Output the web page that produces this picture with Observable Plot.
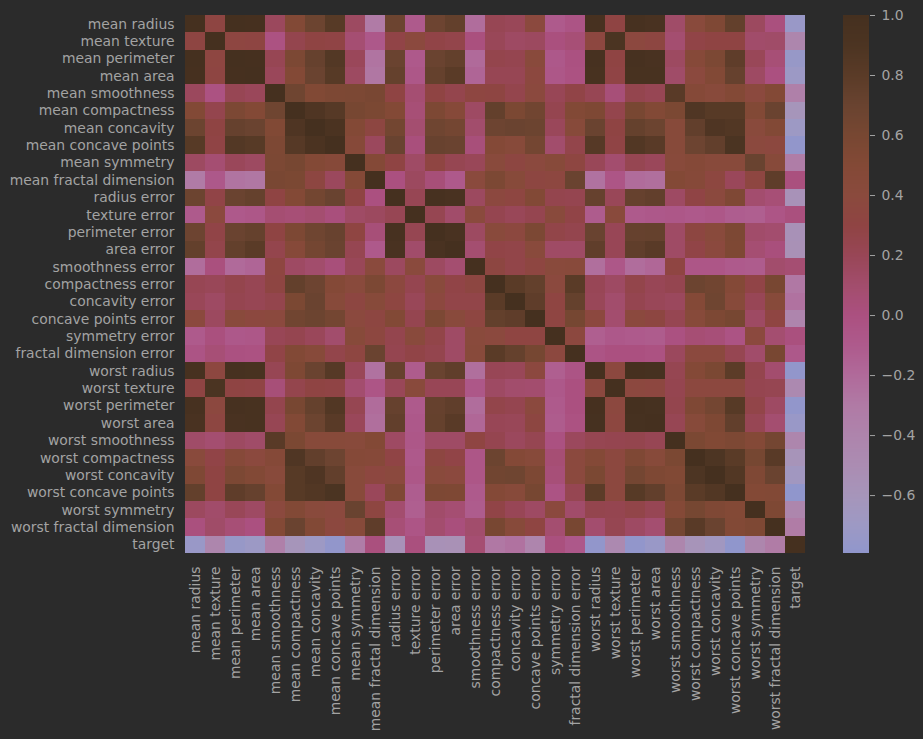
<!DOCTYPE html>
<html>
<head>
<meta charset="utf-8">
<script src="https://cdn.jsdelivr.net/npm/d3@7"></script>
<script src="https://cdn.jsdelivr.net/npm/@observablehq/plot@0.6"></script>
<style>
  html, body { margin: 0; padding: 0; background: #2b2b2b; }
  #wrap { position: relative; width: 923px; height: 739px; background: #2b2b2b; overflow: hidden; }
  #main, #bar { position: absolute; top: 0; }
  #main { left: 0; }
  #bar { left: 830px; }
  svg { background: transparent !important; }
</style>
</head>
<body>
<div id="wrap"><div id="main"></div><div id="bar"></div></div>
<script>
// Variable names (rows and columns, same order)
const features = [
  "mean radius", "mean texture", "mean perimeter", "mean area", "mean smoothness",
  "mean compactness", "mean concavity", "mean concave points", "mean symmetry", "mean fractal dimension",
  "radius error", "texture error", "perimeter error", "area error", "smoothness error",
  "compactness error", "concavity error", "concave points error", "symmetry error", "fractal dimension error",
  "worst radius", "worst texture", "worst perimeter", "worst area", "worst smoothness",
  "worst compactness", "worst concavity", "worst concave points", "worst symmetry", "worst fractal dimension",
  "target"
];

// Lower triangle of the correlation matrix: row i holds correlations with columns 0..i-1 (diagonal = 1)
const lowerTriangle = [
  [],
  [0.32],
  [1.00, 0.33],
  [0.99, 0.32, 0.99],
  [0.17, -0.02, 0.21, 0.18],
  [0.51, 0.24, 0.56, 0.50, 0.66],
  [0.68, 0.30, 0.72, 0.69, 0.52, 0.88],
  [0.82, 0.29, 0.85, 0.82, 0.55, 0.83, 0.92],
  [0.15, 0.07, 0.18, 0.15, 0.56, 0.60, 0.50, 0.46],
  [-0.31, -0.08, -0.26, -0.28, 0.58, 0.57, 0.34, 0.17, 0.48],
  [0.68, 0.28, 0.69, 0.73, 0.30, 0.50, 0.63, 0.70, 0.30, 0.00],
  [-0.10, 0.39, -0.09, -0.07, 0.07, 0.05, 0.08, 0.02, 0.13, 0.16, 0.21],
  [0.67, 0.28, 0.69, 0.73, 0.30, 0.55, 0.66, 0.71, 0.31, 0.04, 0.97, 0.22],
  [0.74, 0.26, 0.74, 0.80, 0.25, 0.46, 0.62, 0.69, 0.22, -0.09, 0.95, 0.11, 0.94],
  [-0.22, 0.01, -0.20, -0.17, 0.33, 0.14, 0.10, 0.03, 0.19, 0.40, 0.16, 0.40, 0.15, 0.08],
  [0.21, 0.19, 0.25, 0.21, 0.32, 0.74, 0.67, 0.49, 0.42, 0.56, 0.36, 0.23, 0.42, 0.28, 0.34],
  [0.19, 0.14, 0.23, 0.21, 0.25, 0.57, 0.69, 0.44, 0.34, 0.45, 0.33, 0.19, 0.36, 0.27, 0.27, 0.80],
  [0.38, 0.16, 0.41, 0.37, 0.38, 0.64, 0.68, 0.62, 0.39, 0.34, 0.51, 0.23, 0.56, 0.42, 0.33, 0.74, 0.77],
  [-0.10, 0.01, -0.08, -0.07, 0.20, 0.23, 0.18, 0.10, 0.45, 0.35, 0.24, 0.41, 0.27, 0.13, 0.41, 0.39, 0.31, 0.31],
  [-0.04, 0.05, -0.01, -0.02, 0.28, 0.51, 0.45, 0.26, 0.33, 0.69, 0.23, 0.28, 0.24, 0.13, 0.43, 0.80, 0.73, 0.61, 0.37],
  [0.97, 0.35, 0.97, 0.96, 0.21, 0.54, 0.69, 0.83, 0.19, -0.25, 0.72, -0.11, 0.70, 0.76, -0.23, 0.20, 0.19, 0.36, -0.13, -0.04],
  [0.30, 0.91, 0.30, 0.29, 0.04, 0.25, 0.30, 0.29, 0.09, -0.05, 0.19, 0.41, 0.20, 0.20, -0.07, 0.14, 0.10, 0.09, -0.08, -0.00, 0.36],
  [0.97, 0.36, 0.97, 0.96, 0.24, 0.59, 0.73, 0.86, 0.22, -0.21, 0.72, -0.10, 0.72, 0.76, -0.22, 0.26, 0.23, 0.39, -0.10, -0.00, 0.99, 0.37],
  [0.94, 0.34, 0.94, 0.96, 0.21, 0.51, 0.68, 0.81, 0.18, -0.23, 0.75, -0.08, 0.73, 0.81, -0.18, 0.20, 0.19, 0.34, -0.11, -0.02, 0.98, 0.35, 0.98],
  [0.12, 0.08, 0.15, 0.12, 0.81, 0.57, 0.45, 0.45, 0.43, 0.50, 0.14, -0.07, 0.13, 0.13, 0.31, 0.23, 0.17, 0.22, -0.01, 0.17, 0.22, 0.23, 0.24, 0.21],
  [0.41, 0.28, 0.46, 0.39, 0.47, 0.87, 0.75, 0.67, 0.47, 0.46, 0.29, -0.09, 0.34, 0.28, -0.06, 0.68, 0.48, 0.45, 0.06, 0.39, 0.48, 0.36, 0.53, 0.44, 0.57],
  [0.53, 0.30, 0.56, 0.51, 0.43, 0.82, 0.88, 0.75, 0.43, 0.35, 0.38, -0.07, 0.42, 0.39, -0.06, 0.64, 0.66, 0.55, 0.04, 0.38, 0.57, 0.37, 0.62, 0.54, 0.52, 0.89],
  [0.74, 0.30, 0.77, 0.72, 0.50, 0.82, 0.86, 0.91, 0.43, 0.18, 0.53, -0.12, 0.55, 0.54, -0.10, 0.48, 0.44, 0.60, -0.03, 0.22, 0.79, 0.36, 0.82, 0.75, 0.55, 0.80, 0.86],
  [0.16, 0.11, 0.19, 0.14, 0.39, 0.51, 0.41, 0.38, 0.70, 0.33, 0.09, -0.13, 0.11, 0.07, -0.11, 0.28, 0.20, 0.14, 0.39, 0.11, 0.24, 0.23, 0.27, 0.21, 0.49, 0.61, 0.53, 0.50],
  [0.01, 0.12, 0.05, 0.00, 0.50, 0.69, 0.51, 0.37, 0.44, 0.77, 0.05, -0.05, 0.09, 0.02, 0.10, 0.59, 0.44, 0.31, 0.08, 0.59, 0.09, 0.22, 0.14, 0.08, 0.62, 0.81, 0.69, 0.51, 0.54],
  [-0.73, -0.42, -0.74, -0.71, -0.36, -0.60, -0.70, -0.78, -0.33, 0.01, -0.57, 0.01, -0.56, -0.55, 0.07, -0.29, -0.25, -0.41, 0.01, -0.08, -0.78, -0.46, -0.78, -0.73, -0.42, -0.59, -0.66, -0.79, -0.42, -0.32]
];

// Colour bar ticks
const colorTicks = [-0.6, -0.4, -0.2, 0.0, 0.2, 0.4, 0.6, 0.8, 1.0];
const colorMin = -0.793, colorMax = 1.0;

// Colormap stops
const colorStops = [-0.793, -0.70, -0.60, -0.50, -0.40, -0.30, -0.20, -0.10, 0.00, 0.10, 0.20, 0.30, 0.40, 0.50, 0.60, 0.70, 0.80, 0.90, 1.00];
const colorRange = ["#9096cc", "#9d99c4", "#a695ba", "#ab8cb2", "#ae84ac", "#b07aa5", "#b06a9a", "#ae5a8c", "#ab5080", "#a24d6c", "#984656", "#8f4443", "#8a4a3d", "#834936", "#774732", "#694330", "#5a3b27", "#4c3422", "#45301f"];

// Build full symmetric table
const cells = [];
features.forEach((rowName, i) => {
  features.forEach((colName, j) => {
    let v;
    if (i === j) v = 1;
    else if (j < i) v = lowerTriangle[i][j];
    else v = lowerTriangle[j][i];
    cells.push({row: rowName, col: colName, value: v});
  });
});

const colorScale = {type: "linear", domain: colorStops, range: colorRange, interpolate: "rgb", clamp: true};
const textColor = "#a3a3a3";
const font = "DejaVu Sans, sans-serif";

const main = Plot.plot({
  width: 830,
  height: 739,
  marginLeft: 185,
  marginRight: 25,
  marginTop: 15,
  marginBottom: 186,
  style: {background: "transparent", color: textColor, fontFamily: font, fontSize: "13.9px"},
  x: {domain: features, padding: 0, round: false, label: null, tickRotate: -90, tickSize: 0, tickPadding: 13},
  y: {domain: features, padding: 0, round: false, label: null, tickSize: 0, tickPadding: 11},
  color: colorScale,
  marks: [
    Plot.cell(cells, {x: "col", y: "row", fill: "value", inset: 0, shapeRendering: "crispEdges"})
  ]
});
document.getElementById("main").appendChild(main);

// Colour bar
const rampStep = (colorMax - colorMin) / 400;
const ramp = d3.range(400).map(k => ({y1: colorMin + k * rampStep, y2: colorMin + (k + 1) * rampStep, v: colorMin + (k + 0.5) * rampStep}));
const bar = Plot.plot({
  width: 93,
  height: 739,
  marginLeft: 13,
  marginRight: 54,
  marginTop: 15,
  marginBottom: 186,
  style: {background: "transparent", color: textColor, fontFamily: font, fontSize: "13.9px"},
  x: {domain: [0, 1], axis: null},
  y: {domain: [colorMin, colorMax], axis: "right", ticks: colorTicks, tickFormat: d3.format(".1f"), tickSize: 5, tickPadding: 7, label: null},
  color: colorScale,
  marks: [
    Plot.rect(ramp, {x1: 0, x2: 1, y1: "y1", y2: "y2", fill: "v", shapeRendering: "crispEdges"})
  ]
});
document.getElementById("bar").appendChild(bar);
</script>
</body>
</html>
